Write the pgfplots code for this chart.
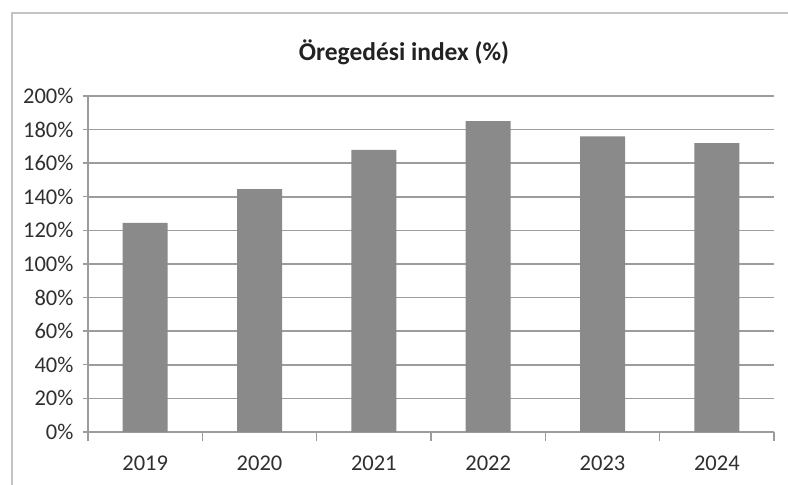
\documentclass[border=0pt]{standalone}
\usepackage{fontspec}
\setmainfont{Carlito}
\usepackage{pgfplots}
\pgfplotsset{compat=1.18}
\definecolor{barGray}{HTML}{8A8A8A}
\definecolor{gridGray}{HTML}{9C9C9C}
\definecolor{txtGray}{HTML}{303030}
\definecolor{frameGray}{HTML}{C4C4C4}
\begin{document}
\begin{tikzpicture}
\useasboundingbox (0,0) rectangle (788bp,485bp);
\fill[white] (0,0) rectangle (788bp,485bp);
\draw[frameGray, line width=1.5bp] (12bp,0) -- (12bp,472bp) -- (788bp,472bp);
\node[font=\fontsize{25.5bp}{28bp}\selectfont\bfseries, text=txtGray!70!black] at (404bp,433bp) {Öregedési index (\%)};
\begin{axis}[
  at={(88bp,53bp)}, anchor=south west,
  scale only axis, width=686bp, height=336bp,
  xmin=-0.5, xmax=5.5, ymin=0, ymax=200,
  axis lines*=left,
  axis line style={gridGray, line width=1.4bp},
  ytick={0,20,...,200},
  yticklabel={\pgfmathprintnumber{\tick}\%},
  xtick={0,...,5},
  xticklabels={2019,2020,2021,2022,2023,2024},
  minor xtick={-0.5,0.5,...,5.5},
  tick align=outside,
  major tick length=5bp,
  minor tick length=9bp,
  x tick style={draw=none},
  minor x tick style={draw=gridGray, line width=1.2bp},
  y tick style={gridGray, line width=1.4bp},
  ymajorgrids,
  grid style={gridGray, line width=1.5bp},
  /pgf/number format/assume math mode=true,
  ticklabel style={font=\fontsize{22.5bp}{25bp}\selectfont, text=txtGray},
  xticklabel style={yshift=-15bp},
  yticklabel style={xshift=-6bp},
  clip=false,
]
\addplot[ybar, bar width=45bp, fill=barGray, draw=none] coordinates {
  (0,124.5) (1,144.5) (2,168) (3,185) (4,176) (5,172)
};
\end{axis}
\end{tikzpicture}
\end{document}
